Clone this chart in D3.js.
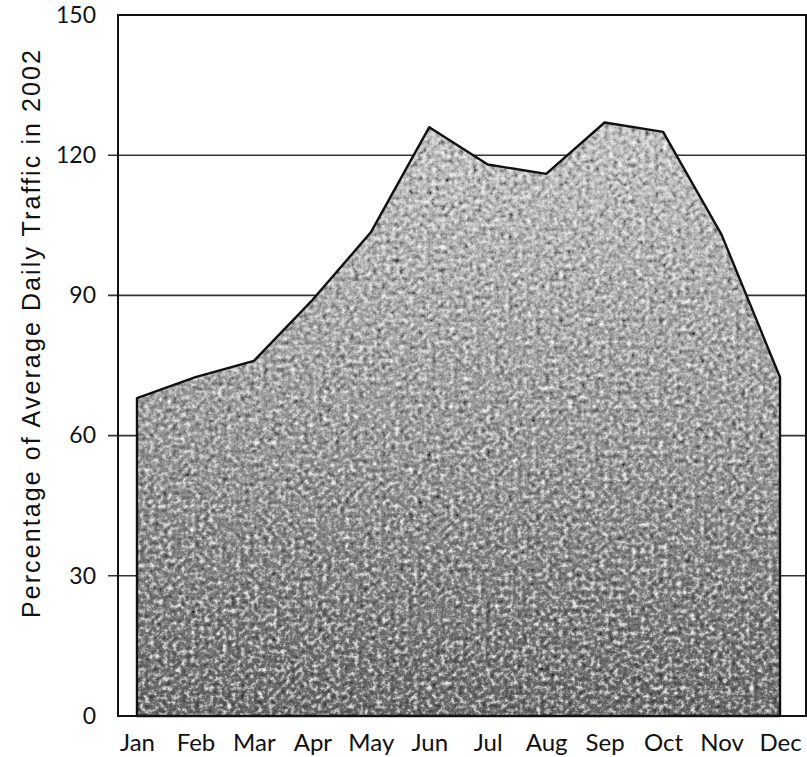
<!DOCTYPE html>
<html><head><meta charset="utf-8">
<script src="https://cdn.jsdelivr.net/npm/d3@7"></script>
<style>body{margin:0;background:#fff}svg{display:block}</style>
</head><body>
<svg id="c" width="807" height="757"></svg>
<script>
const months = ["Jan","Feb","Mar","Apr","May","Jun","Jul","Aug","Sep","Oct","Nov","Dec"];
const values = [68, 72.5, 76, 89, 103.5, 126, 118, 116, 127, 125, 103, 72.5];
const yTicks = [0, 30, 60, 90, 120, 150];
const yTitle = "Percentage of Average Daily Traffic in 2002";

const svg = d3.select("#c");
const L = 118, R = 806, T = 15, B = 716;
const x = d3.scalePoint().domain(months).range([137, 780]);
const y = d3.scaleLinear().domain([0, 150]).range([B, T]);

const defs = svg.append("defs");
const grad = defs.append("linearGradient").attr("id","g").attr("gradientUnits","userSpaceOnUse")
  .attr("x1",0).attr("y1",T+100).attr("x2",0).attr("y2",B);
grad.append("stop").attr("offset","0%").attr("stop-color","#c4c4c4");
grad.append("stop").attr("offset","55%").attr("stop-color","#979797");
grad.append("stop").attr("offset","100%").attr("stop-color","#6a6a6a");
const f = defs.append("filter").attr("id","n").attr("x",0).attr("y",0).attr("width",1).attr("height",1);
f.append("feTurbulence").attr("type","fractalNoise").attr("baseFrequency","0.22").attr("numOctaves",4).attr("seed",11).attr("result","t");
f.append("feColorMatrix").attr("in","t").attr("type","matrix")
  .attr("values","0.75 0.75 0 0 -0.25  0.75 0.75 0 0 -0.25  0.75 0.75 0 0 -0.25  0 0 0 0 1").attr("result","gn");
f.append("feBlend").attr("in","SourceGraphic").attr("in2","gn").attr("mode","overlay").attr("result","b");
f.append("feComposite").attr("in","b").attr("in2","SourceGraphic").attr("operator","in");

// gridlines
svg.append("g").selectAll("line").data(yTicks.filter(d => d > 0 && d < 150)).join("line")
  .attr("x1", L - 10).attr("x2", R).attr("y1", d => y(d)).attr("y2", d => y(d))
  .attr("stroke", "#333").attr("stroke-width", 1.6);

// area
const area = d3.area().x(d => x(d.m)).y0(y(0)).y1(d => y(d.v)).curve(d3.curveLinear);
const data = months.map((m, i) => ({m, v: values[i]}));
svg.append("path").datum(data).attr("d", area).attr("fill","url(#g)").attr("filter","url(#n)");
svg.append("path").datum(data).attr("d", area).attr("fill","none").attr("stroke","#111").attr("stroke-width",2.4).attr("stroke-linejoin","round");

// frame
svg.append("rect").attr("x", L).attr("y", T).attr("width", R - L).attr("height", B - T)
  .attr("fill","none").attr("stroke","#111").attr("stroke-width",2);

// y axis labels
const yAxis = d3.axisLeft(y).tickValues(yTicks).tickSize(0).tickPadding(22);
const ga = svg.append("g").attr("transform", `translate(${L},0)`).call(yAxis);
ga.select(".domain").remove();
ga.selectAll("text").attr("font-family","Lato, sans-serif").attr("font-size",23).attr("fill","#111");

// x axis labels
const xAxis = d3.axisBottom(x).tickSize(0).tickPadding(18);
const gx = svg.append("g").attr("transform", `translate(0,${B})`).call(xAxis);
gx.select(".domain").remove();
gx.selectAll("text").attr("font-family","Lato, sans-serif").attr("font-size",24).attr("fill","#111");

// y title
svg.append("text").attr("transform", `translate(40,333) rotate(-90)`)
  .attr("text-anchor","middle").attr("font-family","'Liberation Sans', Arial, sans-serif")
  .attr("font-size",25).attr("letter-spacing",2.1).attr("fill","#111").text(yTitle);
</script>
</body></html>
